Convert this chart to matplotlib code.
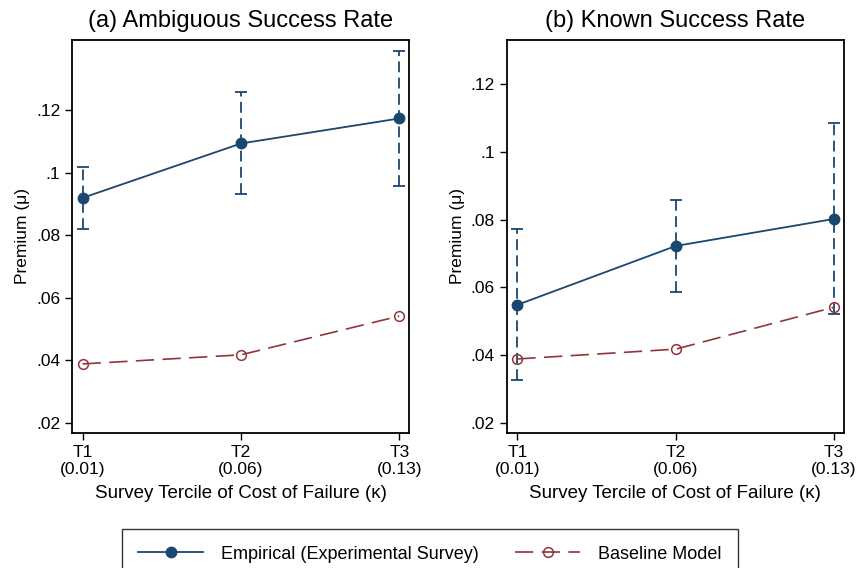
import matplotlib
matplotlib.use("Agg")
import matplotlib.pyplot as plt
from matplotlib.lines import Line2D
from matplotlib.ticker import FuncFormatter

plt.rcParams['font.family'] = ['Liberation Sans', 'DejaVu Sans']

terciles = [1, 2, 3]
tick_labels = ["T1\n(0.01)", "T2\n(0.06)", "T3\n(0.13)"]

# (a) ambiguous success rate
amb_emp = [0.0919, 0.1093, 0.1173]
amb_lo = [0.0819, 0.0930, 0.0958]
amb_hi = [0.1017, 0.1258, 0.1390]
amb_base = [0.0388, 0.0417, 0.0541]

# (b) known success rate
kno_emp = [0.0548, 0.0722, 0.0802]
kno_lo = [0.0325, 0.0587, 0.0520]
kno_hi = [0.0772, 0.0858, 0.1087]
kno_base = [0.0388, 0.0417, 0.0541]

navy = "#1a476f"
maroon = "#90353b"


def fmt(v, pos):
    s = "%g" % round(v, 3)
    return s.replace("0.", ".", 1) if s.startswith("0.") else s


def panel(ax, title, emp, lo, hi, base, ylim):
    yerr = [[e - l for e, l in zip(emp, lo)], [h - e for h, e in zip(hi, emp)]]
    eb = ax.errorbar(terciles, emp, yerr=yerr, fmt='none', ecolor=navy,
                     elinewidth=1.3, capsize=4, capthick=1.3, zorder=2)
    for lc in eb.lines[2]:
        lc.set_linestyle((0, (6, 3)))
    ax.plot(terciles, emp, color=navy, lw=1.3, marker='o', ms=7.5, zorder=3)
    ax.plot(terciles, base, color=maroon, lw=1.2, dashes=(11, 5), marker='o',
            ms=7, mfc='none', mew=1.1, zorder=3)
    ax.set_xlim(0.933, 3.063)
    ax.set_ylim(*ylim)
    ax.set_xticks(terciles)
    ax.set_xticklabels(tick_labels)
    ax.set_yticks([0.02, 0.04, 0.06, 0.08, 0.10, 0.12])
    ax.yaxis.set_major_formatter(FuncFormatter(fmt))
    ax.tick_params(labelsize=12.5, length=5, width=1)
    ax.set_title(title, fontsize=17, pad=9)
    ax.set_ylabel(u"Premium (\u03bc)", fontsize=12.5)
    ax.set_xlabel(u"Survey Tercile of Cost of Failure (\u03ba)", fontsize=13.5, labelpad=6)
    for s in ax.spines.values():
        s.set_linewidth(1.3)


fig = plt.figure(figsize=(8.58, 5.68), dpi=100)
ax1 = fig.add_axes([0.0839, 0.2382, 0.3931, 0.6914])
ax2 = fig.add_axes([0.5906, 0.2382, 0.3931, 0.6914])

panel(ax1, "(a) Ambiguous Success Rate", amb_emp, amb_lo, amb_hi, amb_base, (0.0168, 0.1424))
panel(ax2, "(b) Known Success Rate", kno_emp, kno_lo, kno_hi, kno_base, (0.017, 0.1331))

handles = [
    Line2D([], [], color=navy, lw=1.3, marker='o', ms=7.5),
    Line2D([], [], color=maroon, lw=1.2, dashes=(11, 5), marker='o', ms=7, mfc='none', mew=1.1),
]
leg = fig.legend(handles, ["Empirical (Experimental Survey)", "Baseline Model"],
                 loc='lower center', bbox_to_anchor=(0.501, -0.035), ncol=2,
                 fontsize=13, frameon=True, fancybox=False, handlelength=3.6,
                 columnspacing=2.0, borderpad=0.9, handletextpad=1.0)
leg.get_frame().set_edgecolor('black')
leg.get_frame().set_linewidth(1.0)

fig.savefig("out.png", dpi=100)
